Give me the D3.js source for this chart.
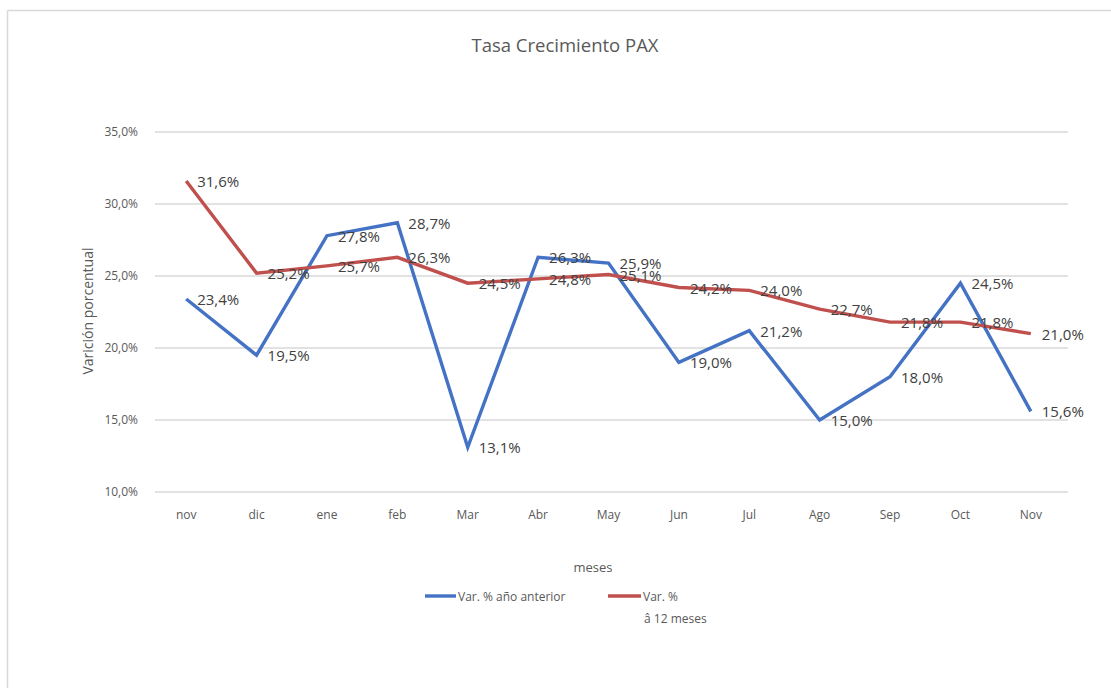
<!DOCTYPE html>
<html><head><meta charset="utf-8">
<script src="https://cdn.jsdelivr.net/npm/d3@7"></script>
<style>
html,body{margin:0;padding:0;background:#fff;}
svg{display:block;}
text{font-family:"Open Sans",Arial,sans-serif;}
</style></head>
<body>
<svg id="c" width="1111" height="688"></svg>
<script>
const categories = ["nov","dic","ene","feb","Mar","Abr","May","Jun","Jul","Ago","Sep","Oct","Nov"];
const varAnioAnterior = [23.4,19.5,27.8,28.7,13.1,26.3,25.9,19.0,21.2,15.0,18.0,24.5,15.6];
const var12Meses = [31.6,25.2,25.7,26.3,24.5,24.8,25.1,24.2,24.0,22.7,21.8,21.8,21.0];
const yTicks = [10,15,20,25,30,35];
const seriesNames = ["Var. % año anterior","Var. %"];

const svg = d3.select("#c");
const fmt = v => v.toFixed(1).replace(".", ",") + "%";

// outer border
svg.append("line").attr("x1",7.5).attr("x2",1111).attr("y1",10.5).attr("y2",10.5).attr("stroke","#d9d9d9").attr("stroke-width",1.5);
svg.append("line").attr("x1",7.5).attr("x2",7.5).attr("y1",10.5).attr("y2",688).attr("stroke","#d9d9d9").attr("stroke-width",1.5);

const x = d3.scaleBand().domain(categories).range([151,1066]);
const y = d3.scaleLinear().domain([10,35]).range([492,132]);
const cx = d => x(d) + x.bandwidth()/2;

// grid
svg.append("g").selectAll("line").data(yTicks).join("line")
  .attr("x1",155).attr("x2",1068).attr("y1",d=>y(d)).attr("y2",d=>y(d))
  .attr("stroke","#d9d9d9").attr("stroke-width",1.3);

// y axis labels
const yAxis = d3.axisLeft(y).tickValues(yTicks).tickSize(0).tickPadding(17).tickFormat(d=>d.toFixed(1).replace(".",",")+"%");
const gy = svg.append("g").attr("transform","translate(155,0)").call(yAxis);
gy.select(".domain").remove();
gy.selectAll("text").attr("fill","#595959").style("font-size","12px").style("font-family","'Open Sans',sans-serif");

// x axis labels
const xAxis = d3.axisBottom(x).tickSize(0).tickPadding(18);
const gx = svg.append("g").attr("transform","translate(0,492)").call(xAxis);
gx.select(".domain").remove();
gx.selectAll("text").attr("fill","#595959").style("font-size","12px").style("font-family","'Open Sans',sans-serif");

// lines
const line = d3.line().x((d,i)=>cx(categories[i])).y(d=>y(d));
svg.append("path").datum(varAnioAnterior).attr("d",line).attr("fill","none").attr("stroke","#4472c4").attr("stroke-width",3.4);
svg.append("path").datum(var12Meses).attr("d",line).attr("fill","none").attr("stroke","#c0504d").attr("stroke-width",3.4);

// labels
function labels(arr){
  svg.append("g").selectAll("text").data(arr).join("text")
    .attr("x",(d,i)=>cx(categories[i])+11).attr("y",d=>y(d)+6)
    .attr("fill","#404040").style("font-size","15px").text(fmt);
}
labels(varAnioAnterior);
labels(var12Meses);

// title
svg.append("text").attr("x",565).attr("y",52).attr("text-anchor","middle").attr("fill","#595959").style("font-size","18.5px").text("Tasa Crecimiento PAX");

// y title
svg.append("text").attr("transform","translate(93,311) rotate(-90)").attr("text-anchor","middle").attr("fill","#595959").style("font-size","14px").text("Varición porcentual");

// x title
svg.append("text").attr("x",593).attr("y",572).attr("text-anchor","middle").attr("fill","#595959").style("font-size","13px").text("meses");

// legend
svg.append("line").attr("x1",425).attr("x2",456).attr("y1",596).attr("y2",596).attr("stroke","#4472c4").attr("stroke-width",3.4);
svg.append("text").attr("x",458).attr("y",601).attr("fill","#595959").style("font-size","12px").text(seriesNames[0]);
svg.append("line").attr("x1",608).attr("x2",641).attr("y1",596).attr("y2",596).attr("stroke","#c0504d").attr("stroke-width",3.4);
svg.append("text").attr("x",643).attr("y",601).attr("fill","#595959").style("font-size","12px").text(seriesNames[1]);
svg.append("text").attr("x",644).attr("y",623).attr("fill","#595959").style("font-size","12px").text("â 12 meses");
</script>
</body></html>
